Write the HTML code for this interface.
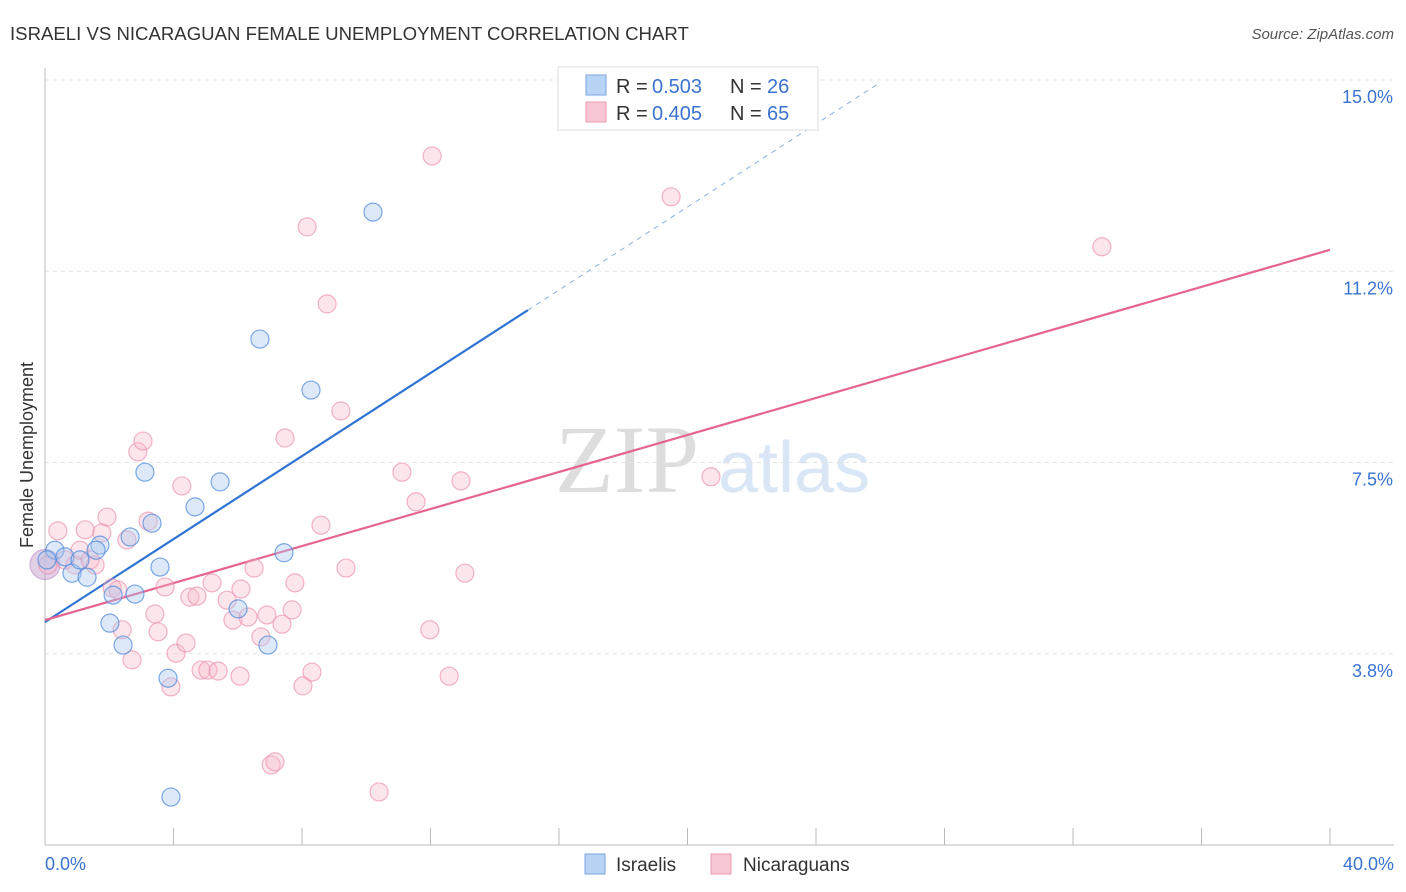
<!DOCTYPE html>
<html><head><meta charset="utf-8"><style>
body{margin:0;background:#fff;font-family:"Liberation Sans",sans-serif;}
svg{display:block}
</style></head><body>
<svg id="chart" width="1406" height="892" xmlns="http://www.w3.org/2000/svg">
<text x="10" y="40" font-size="18.6" fill="#333">ISRAELI VS NICARAGUAN FEMALE UNEMPLOYMENT CORRELATION CHART</text>
<text x="1394" y="39" font-size="15" fill="#555" font-style="italic" text-anchor="end">Source: ZipAtlas.com</text>
<text x="0" y="0" transform="translate(33,455) rotate(-90)" font-size="18" fill="#333" text-anchor="middle">Female Unemployment</text>
<g><text x="555" y="492" font-size="96" fill="#ddd" font-family="Liberation Serif,serif">ZIP</text><text x="718" y="492" font-size="72" fill="#d8e6f5">atlas</text></g>
<g id="grid"></g><g id="axes"></g><g id="lines"></g><g id="pts"></g>
<g>
<rect x="558" y="67" width="260" height="63" fill="#fff" stroke="#ddd"/>
<rect x="586" y="75" width="20" height="20" fill="#b8d4f5" stroke="#7aa6e0"/>
<text x="616" y="93" font-size="20" fill="#333">R =</text><text x="652" y="93" font-size="20" fill="#3b73d1">0.503</text>
<text x="730" y="93" font-size="20" fill="#333">N =</text><text x="767" y="93" font-size="20" fill="#3b73d1">26</text>
<rect x="586" y="102" width="20" height="20" fill="#f9c6d4" stroke="#eb9ab2"/>
<text x="616" y="120" font-size="20" fill="#333">R =</text><text x="652" y="120" font-size="20" fill="#3b73d1">0.405</text>
<text x="730" y="120" font-size="20" fill="#333">N =</text><text x="767" y="120" font-size="20" fill="#3b73d1">65</text>
</g>
<g>
<rect x="585" y="854" width="20" height="20" fill="#b8d4f5" stroke="#7aa6e0"/>
<text x="616" y="871" font-size="19" fill="#333">Israelis</text>
<rect x="711" y="854" width="20" height="20" fill="#f9c6d4" stroke="#eb9ab2"/>
<text x="743" y="871" font-size="19" fill="#333">Nicaraguans</text>
</g>
</svg>
<script>
const xTicks=[0,4,8,12,16,20,24,28,32,36,40];
const yTicks=[3.75,7.5,11.25,15];
const yTickLabels=["3.8%","7.5%","11.2%","15.0%"];
const israelX=[0.31,0.62,0.84,1.31,1.71,1.59,2.12,2.02,2.43,2.65,2.80,3.11,3.33,3.58,3.83,3.92,4.67,5.45,6.01,6.69,6.94,7.44,8.28,10.21,0.06,1.09];
const israelY=[5.78,5.65,5.33,5.25,5.88,5.78,4.90,4.35,3.92,6.04,4.92,7.31,6.31,5.45,3.27,0.94,6.63,7.12,4.63,9.92,3.92,5.73,8.92,12.41,5.59,5.59];
const nicX=[0.09,0.40,0.62,0.93,1.09,1.25,1.40,1.56,1.77,1.93,2.09,2.27,2.40,2.55,2.71,2.89,3.05,3.21,3.42,3.52,3.74,3.92,4.08,4.26,4.39,4.51,4.73,4.86,5.07,5.20,5.39,5.67,5.85,6.07,6.10,6.32,6.51,6.72,6.91,7.04,7.16,7.38,7.47,7.69,7.78,8.03,8.16,8.31,8.59,8.78,9.21,9.37,10.40,11.11,11.55,11.98,12.05,12.58,12.95,13.07,19.49,20.73,32.90];
const nicY=[5.49,6.16,5.59,5.49,5.78,6.18,5.59,5.49,6.12,6.43,5.04,5.00,4.22,5.98,3.63,7.71,7.92,6.35,4.53,4.18,5.06,3.10,3.76,7.04,3.96,4.86,4.88,3.43,3.43,5.14,3.41,4.80,4.41,3.31,5.02,4.47,5.43,4.08,4.51,1.57,1.63,4.33,7.98,4.61,5.14,3.12,12.12,3.39,6.27,10.61,8.51,5.43,1.04,7.31,6.73,4.22,13.51,3.31,7.14,5.33,12.71,7.22,11.73];
const israelFit=[4.37,0.407];
const nicFit=[4.41,0.1815];
const NS="http://www.w3.org/2000/svg";
const sx=v=>45+v*32.125, sy=v=>80+(15-v)*51;
function mk(t,a,p){const e=document.createElementNS(NS,t);for(const k in a)e.setAttribute(k,a[k]);document.getElementById(p).appendChild(e);return e;}
yTicks.forEach((t,i)=>{
 const g=mk('line',{x1:45,x2:1394,y1:sy(t),y2:sy(t),stroke:'#e4e4e4','stroke-dasharray':'4,4'},'grid');
 
 
 const l=mk('text',{x:1393,y:sy(t)+23,'font-size':18,fill:'#3b73d1','text-anchor':'end'},'axes');
 l.textContent=yTickLabels[i];
 
 
});
const ax=mk('line',{x1:45,x2:45,y1:68,y2:845,stroke:'#bbb'},'axes');


const bx=mk('line',{x1:45,x2:1394,y1:845,y2:845,stroke:'#bbb'},'axes');


xTicks.forEach(t=>{
 const k=mk('line',{x1:sx(t),x2:sx(t),y1:828,y2:845,stroke:'#bbb'},'axes');
 
 
});
[[0,'0.0%','start',45],[40,'40.0%','end',1394]].forEach(d=>{
 const l=mk('text',{x:d[3],y:870,'font-size':18,fill:'#3b73d1','text-anchor':d[2]},'axes');
 l.textContent=d[1];
 
 
});
function dot(x,y,r,f,s,name){
 const c=mk('circle',{cx:sx(x),cy:sy(y),r:r,fill:f,stroke:s,'stroke-width':1.2},'pts');
 
 
}
dot(0,5.5,15,'rgba(190,150,200,0.45)','rgba(180,140,200,0.6)','cluster-point');
nicX.forEach((x,i)=>dot(x,nicY[i],9,'rgba(246,182,200,0.35)','rgba(235,140,170,0.65)','nicaraguans-point'));
israelX.forEach((x,i)=>dot(x,israelY[i],9,'rgba(170,200,240,0.4)','rgba(80,140,220,0.75)','israelis-point'));
const bl=mk('line',{x1:sx(0),y1:sy(israelFit[0]),x2:sx(15.03),y2:sy(israelFit[0]+israelFit[1]*15.03),stroke:'#2f74d4','stroke-width':2.2},'lines');


const bd=mk('line',{x1:sx(15.03),y1:sy(israelFit[0]+israelFit[1]*15.03),x2:sx(26),y2:sy(israelFit[0]+israelFit[1]*26),stroke:'#8ab0e0','stroke-width':1,'stroke-dasharray':'5,5'},'lines');


const pl=mk('line',{x1:sx(0),y1:sy(nicFit[0]),x2:sx(40),y2:sy(nicFit[0]+nicFit[1]*40),stroke:'#e5658f','stroke-width':2.2},'lines');


</script>
</body></html>
